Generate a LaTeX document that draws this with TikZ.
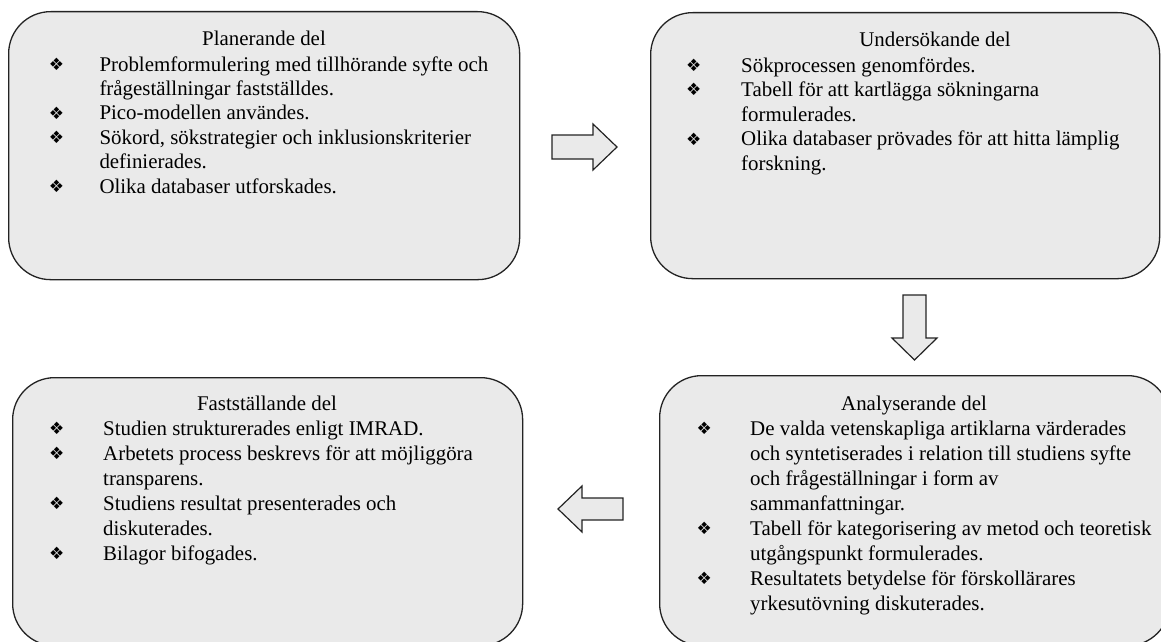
\documentclass[tikz,border=0pt]{standalone}
\usepackage{fontspec}
\setmainfont{Liberation Serif}
\newfontfamily\symfont{DejaVu Sans}
\definecolor{boxfill}{RGB}{234,234,234}
\definecolor{edge}{RGB}{35,35,35}
\newcommand\bul{\raisebox{0.5pt}{\symfont\fontsize{17}{17}\selectfont ❖}}
\newcommand\bitem[2]{\makebox[#1][l]{\bul}#2}
\newcommand\bcont[2]{\hspace*{#1}#2}
\tikzset{
  stage/.style={rectangle, draw=edge, line width=1.3pt, fill=boxfill,
    rounded corners=42pt, inner sep=0pt, anchor=north west},
  ttl/.style={inner sep=0pt, anchor=base, font=\fontsize{20.9}{24.8}\selectfont},
  lst/.style={inner sep=0pt, anchor=base west, font=\fontsize{20.9}{24.8}\selectfont},
  blockarrow/.style={draw=edge, line width=1.2pt, fill=boxfill, line join=miter}
}
\begin{document}
\begin{tikzpicture}[x=1pt,y=-1pt]
\useasboundingbox (0,0) rectangle (1161,642);
\clip (0,0) rectangle (1161,642);

% boxes
\node[stage, minimum width=511pt, minimum height=268pt] (plan) at (8,11) {};
\node[stage, minimum width=509pt, minimum height=266pt] (unders) at (650,12) {};
\node[stage, minimum width=510pt, minimum height=268pt] (fast) at (12,377) {};
\node[stage, minimum width=510pt, minimum height=270pt] (anal) at (659,375) {};

% titles
\node[ttl] (planT) at (264,46) {Planerande del};
\node[ttl] (undersT) at (935,47) {Undersökande del};
\node[ttl] (fastT) at (267,410) {Fastställande del};
\node[ttl] (analT) at (914,410) {Analyserande del};

% lists
\node[lst] (planL) at (48.7,71) {\parbox[t]{560pt}{\fontsize{20.9}{24.4}\selectfont\noindent
\bitem{50.6pt}{Problemformulering med tillhörande syfte och}\\
\bcont{50.6pt}{frågeställningar fastställdes.}\\
\bitem{50.6pt}{Pico-modellen användes.}\\
\bitem{50.6pt}{Sökord, sökstrategier och inklusionskriterier}\\
\bcont{50.6pt}{definierades.}\\
\bitem{50.6pt}{Olika databaser utforskades.}}};

\node[lst] (undersL) at (686,72) {\parbox[t]{560pt}{\fontsize{20.9}{24.5}\selectfont\noindent
\bitem{55pt}{Sökprocessen genomfördes.}\\
\bitem{55pt}{Tabell för att kartlägga sökningarna}\\
\bcont{55pt}{formulerades.}\\
\bitem{55pt}{Olika databaser prövades för att hitta lämplig}\\
\bcont{55pt}{forskning.}}};

\node[lst] (fastL) at (49,435) {\parbox[t]{560pt}{\fontsize{20.9}{25}\selectfont\noindent
\bitem{54pt}{Studien strukturerades enligt IMRAD.}\\
\bitem{54pt}{Arbetets process beskrevs för att möjliggöra}\\
\bcont{54pt}{transparens.}\\
\bitem{54pt}{Studiens resultat presenterades och}\\
\bcont{54pt}{diskuterades.}\\
\bitem{54pt}{Bilagor bifogades.}}};

\node[lst] (analL) at (696.5,435) {\parbox[t]{560pt}{\fontsize{20.9}{25}\selectfont\noindent
\bitem{53.5pt}{De valda vetenskapliga artiklarna värderades}\\
\bcont{53.5pt}{och syntetiserades i relation till studiens syfte}\\
\bcont{53.5pt}{och frågeställningar i form av}\\
\bcont{53.5pt}{sammanfattningar.}\\
\bitem{53.5pt}{Tabell för kategorisering av metod och teoretisk}\\
\bcont{53.5pt}{utgångspunkt formulerades.}\\
\bitem{53.5pt}{Resultatets betydelse för förskollärares}\\
\bcont{53.5pt}{yrkesutövning diskuterades.}}};

% block arrows
\draw[blockarrow] (552,135) -- (593,135) -- (593,124) -- (617,147) -- (593,170) -- (593,159) -- (552,159) -- cycle;
\draw[blockarrow] (903,295) -- (926,295) -- (926,338) -- (937,338) -- (914.5,360) -- (892,338) -- (903,338) -- cycle;
\draw[blockarrow] (623,498) -- (582,498) -- (582,486) -- (558,509) -- (582,532) -- (582,520) -- (623,520) -- cycle;
\end{tikzpicture}
\end{document}
